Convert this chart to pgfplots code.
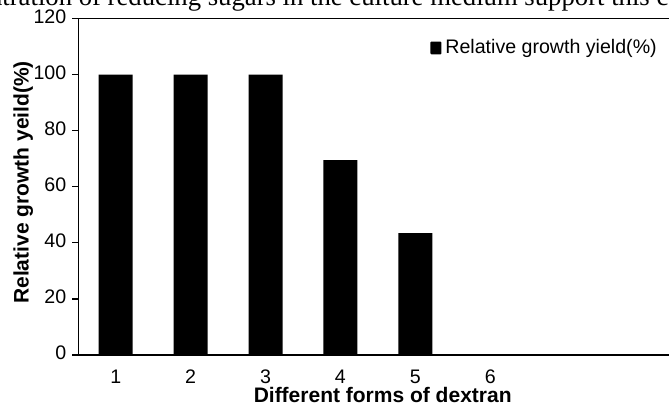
\documentclass[border=0pt]{standalone}
\usepackage{pgfplots}
\pgfplotsset{compat=1.18}
\usepackage{fontspec}
\setmainfont{Liberation Sans}
\newfontfamily\seriffont{Liberation Serif}
\begin{document}
\begin{tikzpicture}
\begin{axis}[
  name=ax,
  scale only axis,
  width=299.6pt, height=168.15pt,
  xmin=0.5, xmax=8.5, ymin=0, ymax=120,
  axis x line*=bottom, axis y line*=left,
  axis line style={black, line width=0.6pt},
  ytick={0,20,...,120},
  xtick={1,2,3,4,5,6},
  xtick style={draw=none},
  minor xtick={0.5,1.5,...,8.5},
  minor tick length=3.5pt,
  major tick length=3pt,
  tick align=outside,
  tick style={black, line width=0.6pt},
  ytick style={black},
  typeset ticklabels with strut,
  tick label style={font=\fontsize{9.8pt}{11pt}\selectfont},
  yticklabel style={xshift=0.5pt},
  /pgf/number format/assume math mode=true,
  xlabel={Different forms of dextran},
  ylabel={Relative growth yeild(\%)},
  label style={font=\fontsize{10.5pt}{12pt}\selectfont\bfseries},
  xlabel style={at={(axis description cs:0.508,0)}, anchor=center, yshift=-20pt},
  ylabel style={at={(axis description cs:-0.092,0.513)}, anchor=center},
  legend style={draw=none, fill=none, at={(rel axis cs:0.587,0.913)}, anchor=west,
    font=\fontsize{9.8pt}{11pt}\selectfont, inner sep=0pt},
  legend image code/.code={\fill[black, rounded corners=0.5pt] (0pt,-3.2pt) rectangle (5.5pt,3.2pt);},
  clip=false,
]
\addplot[ybar, bar width=17pt, fill=black, draw=none] coordinates {
  (1,100) (2,100) (3,100) (4,69.5) (5,43.5) (6,0)
};
\addlegendentry{Relative growth yield(\%)}
\draw[black, line width=0.6pt] (rel axis cs:0,1) -- (rel axis cs:1,1);
\end{axis}
\path (ax.south west) ++(-38.15pt,174.5pt) node[anchor=base west, inner sep=0pt, font=\seriffont\fontsize{13.35pt}{15pt}\selectfont] {\llap{concen}tration of reducing sugars in the culture medium support this conclusion};
\pgfresetboundingbox
\useasboundingbox (ax.south west) ++(-39.15pt,-25pt) rectangle ++(334.5pt,202.5pt);
\end{tikzpicture}
\end{document}
